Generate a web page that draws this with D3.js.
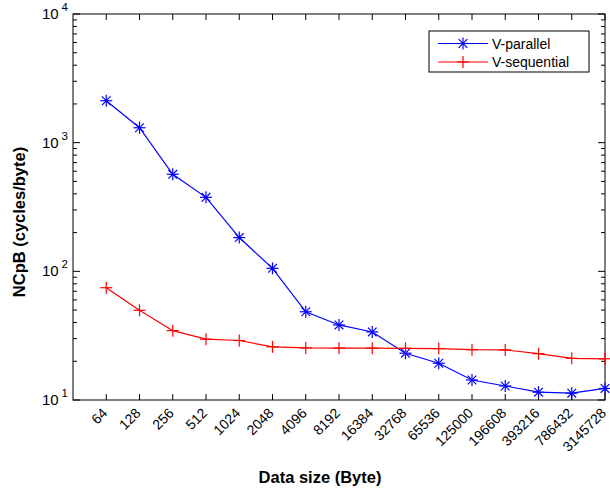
<!DOCTYPE html>
<html>
<head>
<meta charset="utf-8">
<script src="https://cdn.jsdelivr.net/npm/d3@7"></script>
<style>
  body { margin: 0; background: #fff; }
  svg { display: block; font-family: "Liberation Sans", Arial, sans-serif; }
</style>
</head>
<body>
<div id="chart"></div>
<script>
// data
const sizes = ["64", "128", "256", "512", "1024", "2048", "4096", "8192", "16384",
  "32768", "65536", "125000", "196608", "393216", "786432", "3145728"];
const parallel = [2118, 1306, 568, 376, 183, 105.5, 48.5, 38.3, 33.8,
  23.1, 19.3, 14.3, 12.85, 11.5, 11.3, 12.3];
const sequential = [74.6, 49.8, 34.6, 29.7, 29.0, 25.9, 25.4, 25.3, 25.3,
  25.2, 25.1, 24.6, 24.5, 22.9, 21.1, 20.9];
const yTicks = [10, 100, 1000, 10000];

const series = [
  { name: "V-parallel", values: parallel, color: "#0000ff", marker: "star" },
  { name: "V-sequential", values: sequential, color: "#ff0000", marker: "plus" },
];

const width = 610, height = 492;
const margin = { top: 14, right: 5, bottom: 92, left: 73 };
const innerW = width - margin.left - margin.right;
const innerH = height - margin.top - margin.bottom;

const svg = d3.select("#chart").append("svg")
  .attr("width", width)
  .attr("height", height);

const g = svg.append("g")
  .attr("transform", `translate(${margin.left},${margin.top})`);

// categories sit at 1..16, axis runs 0..16
const x = d3.scaleLinear().domain([0, sizes.length]).range([0, innerW]);
const y = d3.scaleLog().domain([10, 10000]).range([innerH, 0]);

// frame
g.append("rect")
  .attr("width", innerW).attr("height", innerH)
  .attr("fill", "none").attr("stroke", "#000").attr("stroke-width", 1);

// x ticks (inward, bottom and top)
const xt = g.append("g").attr("stroke", "#000");
sizes.forEach((s, i) => {
  const px = x(i + 1);
  xt.append("line").attr("x1", px).attr("x2", px).attr("y1", innerH).attr("y2", innerH - 6);
  xt.append("line").attr("x1", px).attr("x2", px).attr("y1", 0).attr("y2", 6);
});

// x tick labels rotated
g.append("g").selectAll("text")
  .data(sizes)
  .join("text")
  .attr("transform", (d, i) => `translate(${x(i + 1) + 2},${innerH + 14}) rotate(-45)`)
  .attr("text-anchor", "end")
  .attr("font-size", 14)
  .text(d => d);

// y ticks: majors and minors, left and right
const yt = g.append("g").attr("stroke", "#000");
const minors = [];
for (let e = 1; e < 4; e++) {
  for (let k = 2; k <= 9; k++) minors.push(k * Math.pow(10, e));
}
yTicks.forEach(v => {
  yt.append("line").attr("x1", 0).attr("x2", 7).attr("y1", y(v)).attr("y2", y(v));
  yt.append("line").attr("x1", innerW).attr("x2", innerW - 7).attr("y1", y(v)).attr("y2", y(v));
});
minors.forEach(v => {
  yt.append("line").attr("x1", 0).attr("x2", 4).attr("y1", y(v)).attr("y2", y(v));
  yt.append("line").attr("x1", innerW).attr("x2", innerW - 4).attr("y1", y(v)).attr("y2", y(v));
});

// y tick labels as 10^n
const yl = g.append("g").selectAll("text")
  .data(yTicks)
  .join("text")
  .attr("x", -5)
  .attr("y", d => y(d) + 5)
  .attr("text-anchor", "end")
  .attr("font-size", 15);
yl.append("tspan").text("10");
yl.append("tspan")
  .attr("font-size", 11.5)
  .attr("dx", 3)
  .attr("dy", -8)
  .text(d => Math.round(Math.log10(d)));

// lines
const line = d3.line()
  .x((d, i) => x(i + 1))
  .y(d => y(d));

function drawMarker(sel, type, color, cx, cy) {
  const r = 6;
  const m = sel.append("g").attr("transform", `translate(${cx},${cy})`)
    .attr("stroke", color).attr("stroke-width", 1.2).attr("fill", "none");
  m.append("line").attr("x1", -r).attr("x2", r).attr("y1", 0).attr("y2", 0);
  m.append("line").attr("x1", 0).attr("x2", 0).attr("y1", -r).attr("y2", r);
  if (type === "star") {
    const d = r * 0.72;
    m.append("line").attr("x1", -d).attr("x2", d).attr("y1", -d).attr("y2", d);
    m.append("line").attr("x1", -d).attr("x2", d).attr("y1", d).attr("y2", -d);
  }
}

series.forEach(s => {
  g.append("path")
    .datum(s.values)
    .attr("fill", "none")
    .attr("stroke", s.color)
    .attr("stroke-width", 1.2)
    .attr("d", line);
  const mg = g.append("g");
  s.values.forEach((v, i) => drawMarker(mg, s.marker, s.color, x(i + 1), y(v)));
});

// legend
const lg = svg.append("g").attr("transform", "translate(429,31)");
lg.append("rect").attr("width", 160).attr("height", 41)
  .attr("fill", "#fff").attr("stroke", "#000").attr("stroke-width", 1);
series.forEach((s, i) => {
  const ly = 12.5 + i * 18.5;
  lg.append("line").attr("x1", 9).attr("x2", 59).attr("y1", ly).attr("y2", ly)
    .attr("stroke", s.color).attr("stroke-width", 1.2);
  drawMarker(lg, s.marker, s.color, 34, ly);
  lg.append("text").attr("x", 63).attr("y", ly + 5)
    .attr("font-size", 14).text(s.name);
});

// axis titles
svg.append("text")
  .attr("x", 320).attr("y", 483)
  .attr("text-anchor", "middle")
  .attr("font-size", 16.5).attr("font-weight", "bold")
  .text("Data size (Byte)");

svg.append("text")
  .attr("transform", "translate(25,222) rotate(-90)")
  .attr("text-anchor", "middle")
  .attr("font-size", 16.5).attr("font-weight", "bold")
  .text("NCpB (cycles/byte)");
</script>
</body>
</html>
